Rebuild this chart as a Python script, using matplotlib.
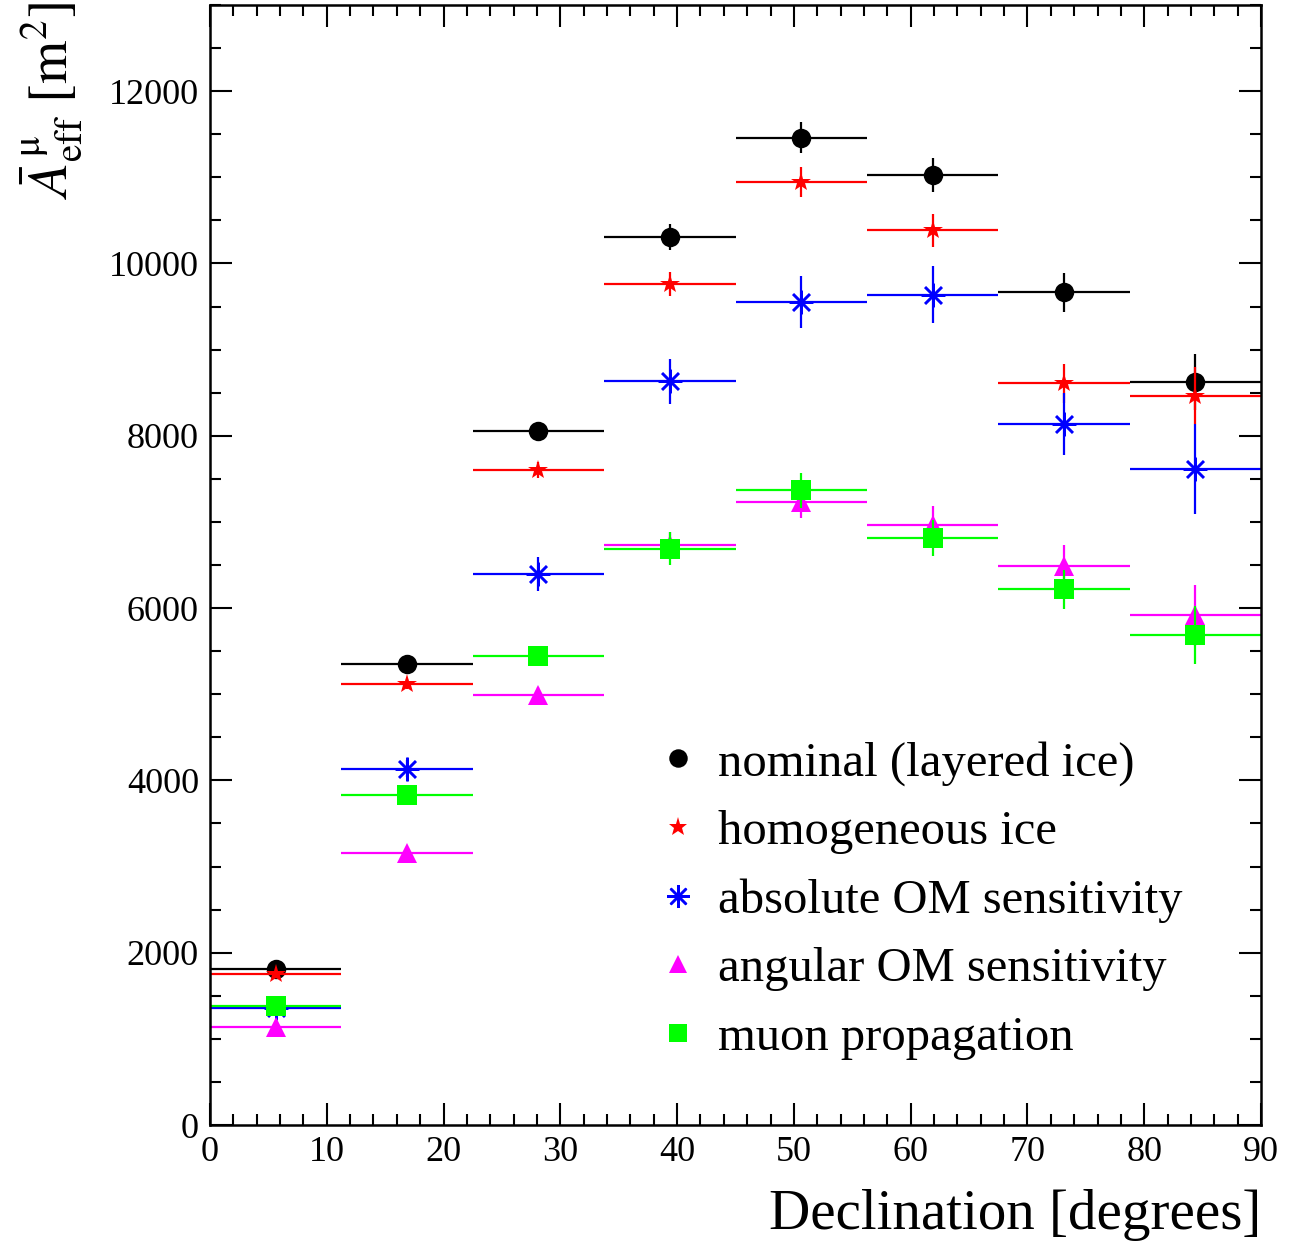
import numpy as np
import matplotlib.pyplot as plt
from matplotlib.ticker import MultipleLocator
from matplotlib.lines import Line2D

plt.rcParams['font.family'] = ['Liberation Serif', 'DejaVu Serif']
plt.rcParams['mathtext.fontset'] = 'stix'

# declination bins (8 bins of 11.25 deg)
bin_edges = np.linspace(0, 90, 9)
bin_centers = 0.5 * (bin_edges[:-1] + bin_edges[1:])
half_width = 0.5 * np.diff(bin_edges)

labels = ["nominal (layered ice)", "homogeneous ice", "absolute OM sensitivity",
          "angular OM sensitivity", "muon propagation"]

nominal = [1810, 5353, 8054, 10309, 11458, 11025, 9663, 8619]
nominal_err = [30, 60, 90, 150, 180, 200, 230, 325]
homogeneous = [1756, 5121, 7605, 9760, 10944, 10383, 8607, 8463]
homogeneous_err = [30, 60, 90, 140, 170, 190, 230, 330]
abs_om = [1361, 4135, 6394, 8630, 9551, 9636, 8131, 7617]
abs_om_err = [40, 100, 200, 260, 300, 330, 360, 525]
ang_om = [1137, 3160, 4990, 6734, 7233, 6967, 6487, 5915]
ang_om_err = [30, 60, 90, 150, 190, 215, 245, 350]
muon_prop = [1377, 3826, 5439, 6688, 7366, 6816, 6217, 5686]
muon_prop_err = [30, 60, 90, 190, 200, 210, 230, 340]

series = [
    (nominal, nominal_err, "black", "o", 14),
    (homogeneous, homogeneous_err, "red", "*", 15),
    (abs_om, abs_om_err, "blue", (8, 2, 0), 17),
    (ang_om, ang_om_err, "magenta", "^", 14),
    (muon_prop, muon_prop_err, "#00ff00", "s", 14),
]

fig = plt.figure(figsize=(12.91, 12.47), dpi=100)
ax = fig.add_axes([210 / 1291, 122 / 1247, 1051 / 1291, 1120 / 1247])

handles = []
for (vals, errs, col, mk, ms), lab in zip(series, labels):
    ax.errorbar(bin_centers, vals, xerr=half_width, yerr=errs, fmt="none",
                ecolor=col, elinewidth=1.6, capsize=0)
    mew = 1.8 if mk == (8, 2, 0) else 0
    ax.plot(bin_centers, vals, linestyle="none", marker=mk, markersize=ms,
            color=col, markeredgecolor=col, markeredgewidth=mew)
    handles.append(Line2D([], [], linestyle="none", marker=mk,
                          markersize=ms * 0.95, color=col,
                          markeredgecolor=col, markeredgewidth=mew))

ax.set_xlim(0, 90)
ax.set_ylim(0, 13000)
ax.xaxis.set_major_locator(MultipleLocator(10))
ax.xaxis.set_minor_locator(MultipleLocator(2))
ax.yaxis.set_major_locator(MultipleLocator(2000))
ax.yaxis.set_minor_locator(MultipleLocator(500))
ax.tick_params(which="both", direction="in", top=True, right=True,
               labelsize=26, width=1.5)
ax.tick_params(which="major", length=16, pad=8)
ax.tick_params(which="minor", length=8)
for sp in ax.spines.values():
    sp.set_linewidth(1.8)

ax.set_xlabel("Declination [degrees]", fontsize=41, ha="right", x=1.0,
              labelpad=14)
fig.text(0.040, 0.998, r"$\bar{A}^{\,\mathrm{μ}}_{\rm eff}\ [\rm m^{2}]$",
         rotation=90, ha="center", va="top", fontsize=40)

ax.legend(handles, labels, loc="upper left", bbox_to_anchor=(0.4225, 0.343),
          frameon=False, fontsize=35, handlelength=1.0, handletextpad=0.32,
          labelspacing=0.5, borderpad=0, borderaxespad=0)

fig.savefig("out.png", dpi=100)
